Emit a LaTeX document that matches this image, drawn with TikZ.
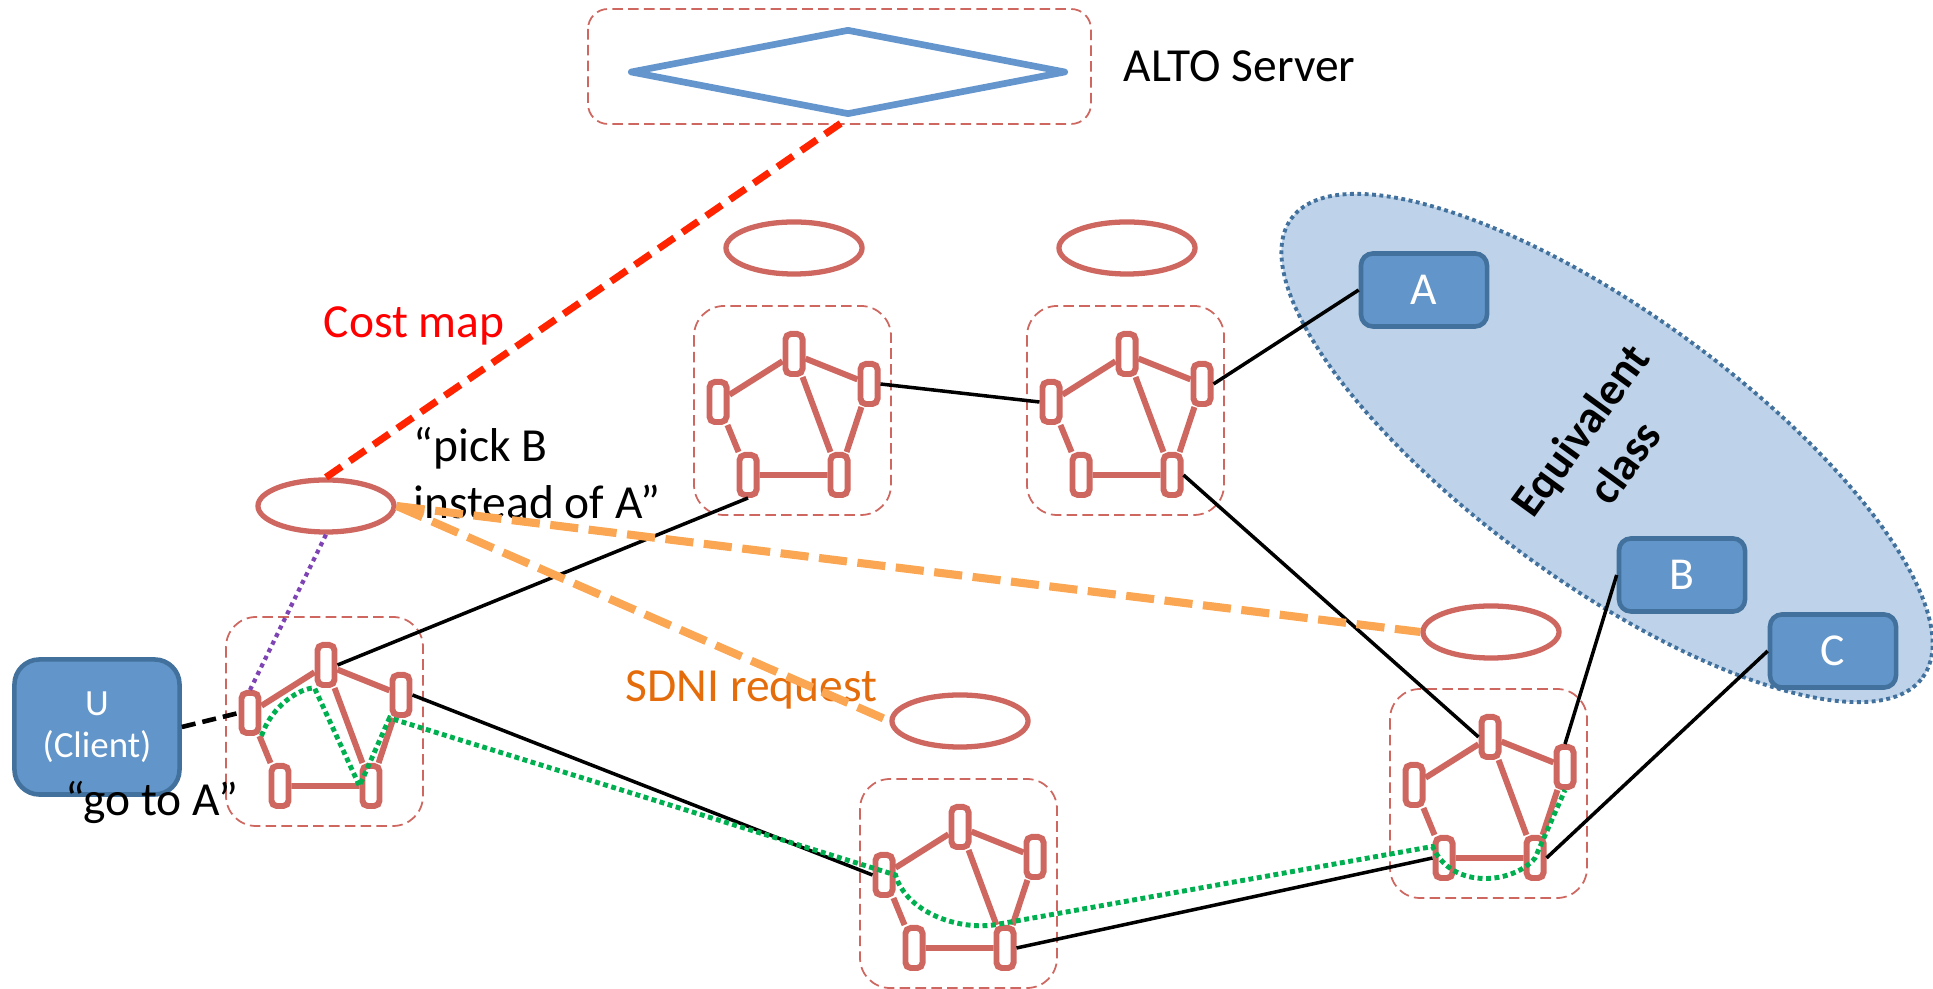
\documentclass[tikz,border=0pt]{standalone}
\usepackage{fontspec}
\setmainfont{Carlito}
\usetikzlibrary{shapes.geometric}

\definecolor{routerred}{RGB}{206,103,96}
\definecolor{altoblue}{RGB}{100,149,205}
\definecolor{hostfill}{RGB}{98,149,201}
\definecolor{hostedge}{RGB}{65,113,156}
\definecolor{classfill}{RGB}{190,211,233}
\definecolor{costred}{RGB}{255,35,0}
\definecolor{sdniorange}{RGB}{250,166,82}
\definecolor{sdnitext}{RGB}{228,108,10}
\definecolor{pathgreen}{RGB}{0,176,80}
\definecolor{ctlpurple}{RGB}{126,68,180}

\tikzset{
    switch/.style={rectangle, draw=routerred, line width=1.7pt, fill=white,
        rounded corners=1.5pt, minimum width=0.17cm, minimum height=0.40cm, inner sep=0pt},
    swlink/.style={draw=routerred, line width=1.7pt},
    domainbox/.style={draw=routerred, line width=0.5pt, dash pattern=on 3pt off 1.5pt, rounded corners=0.3cm},
    ctrl/.style={ellipse, draw=routerred, line width=1.5pt, fill=white,
        minimum width=1.36cm, minimum height=0.52cm, inner sep=0pt},
    host/.style={rectangle, draw=hostedge, line width=1.3pt, fill=hostfill, text=white,
        inner sep=0pt, font=\fontsize{13}{15}\selectfont},
    wire/.style={draw=black, line width=1pt},
    txt/.style={inner sep=0pt, font=\fontsize{13.5}{16.2}\selectfont},
}

\begin{document}
\begin{tikzpicture}[x=0.01cm, y=-0.01cm]
\useasboundingbox (0,0) rectangle (1933,989);

% equivalent class
\node[ellipse, draw=hostedge, fill=classfill, line width=1.1pt, dash pattern=on 1.1pt off 1pt,
    minimum width=7.8cm, minimum height=2.7cm, inner sep=0pt, rotate=-36] (eqclass) at (1607,448) {};
\node[txt, font=\fontsize{13}{15.6}\selectfont\bfseries, align=center, rotate=54] (eqtext) at (1602,446) {Equivalent\\class};

% ALTO server
\draw[domainbox, rounded corners=0.2cm] (588,9) rectangle (1091,124);
\node[diamond, draw=altoblue, line width=1.9pt, line join=round, minimum width=4.36cm,
    minimum height=0.86cm, inner sep=0pt] (alto) at (848,72) {};
\node[txt, anchor=base west] (altotext) at (1123,82) {ALTO Server};

% network domains
\foreach \i/\x/\y in {1/226/617, 2/694/306, 3/1027/306, 4/860/779, 5/1390/689}
{
    \draw[domainbox] (\x,\y) rectangle ++(197,209);
    \node[switch] (d\i-l)  at (\x+24,\y+96)   {};
    \node[switch] (d\i-t)  at (\x+100,\y+48)  {};
    \node[switch] (d\i-r)  at (\x+175,\y+78)  {};
    \node[switch] (d\i-bl) at (\x+54,\y+169)  {};
    \node[switch] (d\i-br) at (\x+145,\y+169) {};
    \draw[swlink] (d\i-l) -- (d\i-t) -- (d\i-r) -- (d\i-br) -- (d\i-bl) -- (d\i-l);
    \draw[swlink] (d\i-t) -- (d\i-br);
}

% controllers
\node[ctrl] (e0) at (326,506)  {};
\node[ctrl] (e2) at (794,248)  {};
\node[ctrl] (e3) at (1127,248) {};
\node[ctrl] (e4) at (960,721)  {};
\node[ctrl] (e5) at (1491,632) {};

% end hosts
\node[host, minimum width=1.65cm, minimum height=1.35cm, rounded corners=0.25cm, align=center,
    font=\fontsize{10.5}{12}\selectfont] (U) at (97,727) {\raisebox{-3pt}{U}\\\raisebox{-3pt}{(Client)}};
\node[host, minimum width=1.26cm, minimum height=0.73cm, rounded corners=0.12cm] (A) at (1424,290) {A};
\node[host, minimum width=1.26cm, minimum height=0.73cm, rounded corners=0.12cm] (B) at (1682,575) {B};
\node[host, minimum width=1.26cm, minimum height=0.73cm, rounded corners=0.12cm] (C) at (1833,651) {C};

% inter-domain links
\draw[wire] (d1-t.east) -- (d2-bl.south);
\draw[wire] (d1-r.east) -- (d4-l.west);
\draw[wire] (d2-r.east) -- (d3-l.west);
\draw[wire] (d3-r.east) -- (A.west);
\draw[wire] (d3-br.east) -- (d5-t.west);
\draw[wire] (d4-br.east) -- (d5-bl.west);
\draw[wire] (d5-r.north) -- (B.west);
\draw[wire] (d5-br.east) -- (C.west);
\draw[wire, line width=1.3pt, dash pattern=on 4pt off 2pt] (U.east) -- (d1-l.west);

% texts
\node[txt, anchor=base west, text=red] (costtext) at (323,338) {Cost map};
\node[txt, anchor=west, align=left] (picktext) at (413,473) {“pick B\\instead of A”};
\node[txt, anchor=base west, text=sdnitext] (sdnitext) at (625,702) {SDNI request};
\node[txt, anchor=base west] (gotext) at (65,816) {“go to A”};

% signalling
\draw[costred, line width=2pt, dash pattern=on 5.4pt off 2.8pt] (e0.north) -- (alto.south);
\draw[sdniorange, line width=2.3pt, dash pattern=on 8pt off 3pt] (e0.east) -- (e5.west);
\draw[sdniorange, line width=2.3pt, dash pattern=on 8pt off 3pt] (e0.east) -- (e4.west);
\draw[ctlpurple, line width=1.2pt, dash pattern=on 1.2pt off 1.2pt] (e0.south) -- (d1-l.north);

% chosen path
\draw[pathgreen, line width=1.4pt, dash pattern=on 1.4pt off 1pt]
    (d1-l.south east) .. controls +(10,-30) and +(-15,0) .. (d1-t.south west)
    -- (d1-br.west) -- (d1-r.south west) -- (d4-l.east)
    .. controls +(10,35) and +(-40,5) .. (d4-br.north west)
    -- (d5-bl.135) .. controls +(20,45) and +(-20,25) .. (d5-br.center)
    -- (d5-r.south);

\end{tikzpicture}
\end{document}
